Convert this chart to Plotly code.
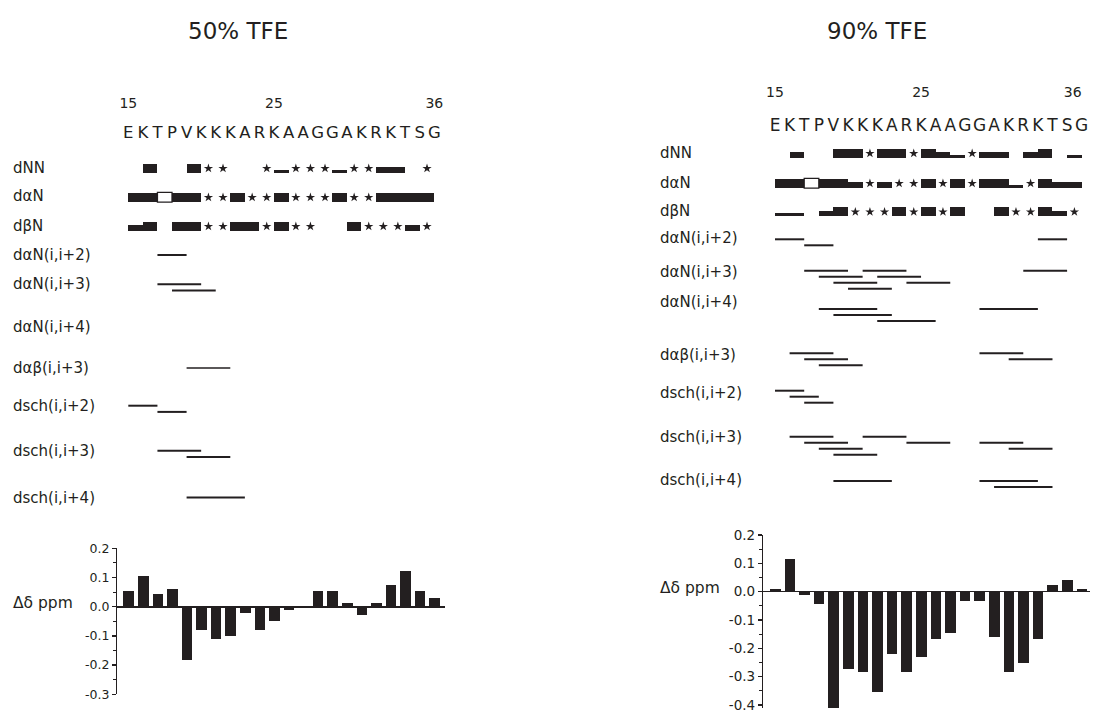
import plotly.graph_objects as go

W, H = 1093, 717

# ====================== DATA ======================
residues = list(range(15, 37))
sequence = list("EKTPVKKKARKAAGGAKRKTSG")
seq_numbers = [15, 25, 36]

panel_titles = ["50% TFE", "90% TFE"]
seq_row_names = ["dNN", "dαN", "dβN"]
mr_row_names = ["dαN(i,i+2)", "dαN(i,i+3)", "dαN(i,i+4)", "dαβ(i,i+3)",
                "dsch(i,i+2)", "dsch(i,i+3)", "dsch(i,i+4)"]
shift_label = "Δδ ppm"

# ---- 50% TFE: sequential NOEs (from residue, to residue, intensity s/m/w)
tfe50_dNN = [(16, 17, "s"), (19, 20, "s"), (25, 26, "w"), (29, 30, "w"), (32, 34, "m")]
tfe50_daN = [(15, 17, "s"), (18, 20, "s"), (22, 23, "s"), (25, 26, "s"), (29, 30, "s"), (32, 36, "s")]
tfe50_dbN = [(15, 16, "m"), (16, 17, "s"), (18, 20, "s"), (22, 24, "s"), (25, 26, "s"), (30, 31, "s"), (34, 35, "m")]
# ambiguous connectivities (star), given by residue i of the (i, i+1) pair
tfe50_dNN_amb = [20, 21, 24, 26, 27, 28, 30, 31, 35]
tfe50_daN_amb = [20, 21, 23, 24, 26, 27, 28, 30, 31]
tfe50_dbN_amb = [20, 21, 24, 26, 27, 31, 32, 33, 35]
tfe50_open = [(17, 18)]
# ---- 50% TFE: medium range NOEs (i, j, stacking level)
tfe50_daN2 = [(17, 19, 0)]
tfe50_daN3 = [(17, 20, 0), (18, 21, 1)]
tfe50_daN4 = []
tfe50_dab3 = [(19, 22, 0)]
tfe50_dsc2 = [(15, 17, 0), (17, 19, 1)]
tfe50_dsc3 = [(17, 20, 0), (19, 22, 1)]
tfe50_dsc4 = [(19, 23, 0)]
# ---- 50% TFE: chemical shift deviation (ppm), residues 15..36
tfe50_shift = [0.055, 0.105, 0.043, 0.061, -0.183, -0.080, -0.111, -0.100, -0.023, -0.080, -0.048,
               -0.011, 0.0, 0.055, 0.055, 0.014, -0.029, 0.014, 0.074, 0.123, 0.055, 0.031]

# ---- 90% TFE: sequential NOEs
tfe90_dNN = [(16, 17, "m"), (19, 21, "s"), (22, 24, "s"), (25, 26, "s"), (26, 27, "m"), (27, 28, "w"),
             (29, 31, "m"), (32, 33, "m"), (33, 34, "s"), (35, 36, "w")]
tfe90_daN = [(15, 17, "s"), (18, 20, "s"), (20, 21, "m"), (22, 23, "m"), (25, 26, "s"), (27, 28, "s"),
             (29, 31, "s"), (31, 32, "w"), (33, 34, "s"), (34, 36, "m")]
tfe90_dbN = [(15, 17, "w"), (18, 19, "m"), (19, 20, "s"), (23, 24, "s"), (25, 26, "s"), (27, 28, "s"),
             (30, 31, "s"), (33, 34, "s"), (34, 35, "m")]
tfe90_dNN_amb = [21, 24, 28]
tfe90_daN_amb = [21, 23, 24, 26, 28, 32]
tfe90_dbN_amb = [20, 21, 22, 24, 26, 31, 32, 35]
tfe90_open = [(17, 18)]
# ---- 90% TFE: medium range NOEs
tfe90_daN2 = [(15, 17, 0), (17, 19, 1), (33, 35, 0)]
tfe90_daN3 = [(17, 20, 0), (21, 24, 0), (32, 35, 0), (18, 21, 1), (22, 25, 1), (19, 22, 2), (24, 27, 2), (20, 23, 3)]
tfe90_daN4 = [(18, 22, 0), (29, 33, 0), (19, 23, 1), (22, 26, 2)]
tfe90_dab3 = [(16, 19, 0), (29, 32, 0), (17, 20, 1), (31, 34, 1), (18, 21, 2)]
tfe90_dsc2 = [(15, 17, 0), (16, 18, 1), (17, 19, 2)]
tfe90_dsc3 = [(16, 19, 0), (21, 24, 0), (17, 20, 1), (24, 27, 1), (29, 32, 1), (18, 21, 2), (31, 34, 2), (19, 22, 3)]
tfe90_dsc4 = [(19, 23, 0), (29, 33, 0), (30, 34, 1)]
# ---- 90% TFE: chemical shift deviation (ppm)
tfe90_shift = [0.009, 0.115, -0.011, -0.044, -0.410, -0.273, -0.282, -0.353, -0.220, -0.282, -0.229,
               -0.166, -0.145, -0.032, -0.032, -0.159, -0.282, -0.250, -0.166, 0.024, 0.041, 0.009]

shift_ticks = [-0.4, -0.3, -0.2, -0.1, 0.0, 0.1, 0.2]
shift_ticktext = ["-0.4", "-0.3", "-0.2", "-0.1", "0.0", "0.1", "0.2"]

# ====================== STYLE / LAYOUT ======================
INK = "#231f20"
FONT = "DejaVu Sans, Liberation Sans, Arial, sans-serif"
THICK = {"s": 8.8, "m": 5.4, "w": 3.0}

panels = [
    dict(xa="x", xb="x3", yb="y3",
         res_px=(128.3, 434.3), dom_px=(0, W / 2),
         seq_base=[172.7, 201.7, 230.7], seq_label_y=[167.5, 196.5, 225.5],
         mr_y=[255, 284.3, 326.5, 368, 405.7, 450.7, 497.5],
         mr_label_y=[255, 284.3, 326.5, 368, 405.7, 450.7, 497.5],
         label_x=11, label_size=15, letters_y=134, letter_size=16.5, numbers_y=104.3,
         last_num_pos="middle center",
         title_xy=(238, 31),
         bar_dom_px=(117.3, 445), bar_res15_px=128.7, bar_step=14.57,
         bar_y_px=(548.3, 694.3), bar_range=(-0.3, 0.2),
         shift_label_xy=(11, 603), tick_size=12.5,
         lw=[2, 2, 2, 1.3, 2, 2, 2], level_dy=6.2,
         noe=[tfe50_dNN, tfe50_daN, tfe50_dbN],
         amb=[tfe50_dNN_amb, tfe50_daN_amb, tfe50_dbN_amb],
         open=tfe50_open,
         mr=[tfe50_daN2, tfe50_daN3, tfe50_daN4, tfe50_dab3, tfe50_dsc2, tfe50_dsc3, tfe50_dsc4],
         shift=tfe50_shift),
    dict(xa="x2", xb="x4", yb="y4",
         res_px=(775, 1081.7), dom_px=(W / 2, W),
         seq_base=[157.7, 187.7, 216.2], seq_label_y=[152.7, 182.5, 211.5],
         mr_y=[239.3, 270.7, 309, 353.3, 390.7, 436.7, 481],
         mr_label_y=[238.3, 271.7, 301.7, 355, 393.3, 436.7, 480],
         label_x=658, label_size=15, letters_y=126.7, letter_size=17, numbers_y=93.3,
         last_num_pos="middle left",
         title_xy=(877, 31),
         bar_dom_px=(763.3, 1090), bar_res15_px=775.3, bar_step=14.6,
         bar_y_px=(535, 708.4), bar_range=(-0.412, 0.2),
         shift_label_xy=(658, 588), tick_size=13.5,
         lw=[2] * 7, level_dy=6.0,
         noe=[tfe90_dNN, tfe90_daN, tfe90_dbN],
         amb=[tfe90_dNN_amb, tfe90_daN_amb, tfe90_dbN_amb],
         open=tfe90_open,
         mr=[tfe90_daN2, tfe90_daN3, tfe90_daN4, tfe90_dab3, tfe90_dsc2, tfe90_dsc3, tfe90_dsc4],
         shift=tfe90_shift),
]


def lin_range(lo_px, hi_px, px_a, v_a, px_b, v_b):
    k = (v_b - v_a) / (px_b - px_a)
    return [v_a + (lo_px - px_a) * k, v_a + (hi_px - px_a) * k]


fig = go.Figure()
annotations = []
layout_axes = {}

# shared pixel-like vertical axis for the NOE diagrams (top = 0)
layout_axes["yaxis"] = dict(domain=[0, 1], range=[H, 0], visible=False, anchor="x",
                            fixedrange=True, automargin=False)

for pi, p in enumerate(panels):
    xa = p["xa"]
    xa_key = "xaxis" if xa == "x" else "xaxis" + xa[1:]
    layout_axes[xa_key] = dict(
        domain=[p["dom_px"][0] / W, p["dom_px"][1] / W],
        range=lin_range(p["dom_px"][0], p["dom_px"][1], p["res_px"][0], 15, p["res_px"][1], 36),
        visible=False, anchor="y", fixedrange=True, automargin=False)

    # sequence letters and residue numbers
    fig.add_trace(go.Scatter(x=residues, y=[p["letters_y"]] * len(residues), mode="text",
                             text=sequence, textposition="middle center",
                             textfont=dict(family=FONT, size=p["letter_size"], color=INK),
                             xaxis=xa, yaxis="y", hoverinfo="skip", cliponaxis=False))
    num_pos = ["middle center"] * (len(seq_numbers) - 1) + [p["last_num_pos"]]
    fig.add_trace(go.Scatter(x=seq_numbers, y=[p["numbers_y"]] * len(seq_numbers), mode="text",
                             text=[str(n) for n in seq_numbers], textposition=num_pos,
                             textfont=dict(family=FONT, size=14, color=INK),
                             xaxis=xa, yaxis="y", hoverinfo="skip", cliponaxis=False))

    # sequential NOE bars
    for ri, (bars, amb) in enumerate(zip(p["noe"], p["amb"])):
        base_y = p["seq_base"][ri]
        th = [THICK[s] for (_, _, s) in bars]
        fig.add_trace(go.Bar(orientation="h",
                             base=[a for (a, _, _) in bars],
                             x=[b - a for (a, b, _) in bars],
                             y=[base_y - t / 2 for t in th],
                             width=th, marker=dict(color=INK, line=dict(width=0)),
                             xaxis=xa, yaxis="y", hoverinfo="skip"))
        if amb:
            fig.add_trace(go.Scatter(x=[i + 0.5 for i in amb], y=[base_y - 4.3] * len(amb),
                                     mode="markers",
                                     marker=dict(symbol="star", size=7, color=INK, line=dict(width=0)),
                                     xaxis=xa, yaxis="y", hoverinfo="skip"))
        annotations.append(dict(text=seq_row_names[ri], xref="paper", yref="paper",
                                x=p["label_x"] / W, y=1 - p["seq_label_y"][ri] / H,
                                xanchor="left", yanchor="middle", showarrow=False,
                                font=dict(family=FONT, size=p["label_size"], color=INK)))
    # open box on the dalphaN row (Pro18)
    ob_th = THICK["s"] + 1
    fig.add_trace(go.Bar(orientation="h",
                         base=[a for (a, _) in p["open"]],
                         x=[b - a for (a, b) in p["open"]],
                         y=[p["seq_base"][1] - ob_th / 2 + 0.5] * len(p["open"]),
                         width=[ob_th] * len(p["open"]),
                         marker=dict(color="white", line=dict(color=INK, width=1.3)),
                         xaxis=xa, yaxis="y", hoverinfo="skip"))

    # medium range NOE lines
    for ri, lines in enumerate(p["mr"]):
        xs, ys = [], []
        for (i, j, lev) in lines:
            yy = p["mr_y"][ri] + lev * p["level_dy"]
            xs += [i, j, None]
            ys += [yy, yy, None]
        if xs:
            fig.add_trace(go.Scatter(x=xs, y=ys, mode="lines",
                                     line=dict(color=INK, width=p["lw"][ri]),
                                     xaxis=xa, yaxis="y", hoverinfo="skip"))
        annotations.append(dict(text=mr_row_names[ri], xref="paper", yref="paper",
                                x=p["label_x"] / W, y=1 - p["mr_label_y"][ri] / H,
                                xanchor="left", yanchor="middle", showarrow=False,
                                font=dict(family=FONT, size=p["label_size"], color=INK)))

    # panel title
    annotations.append(dict(text=panel_titles[pi], xref="paper", yref="paper",
                            x=p["title_xy"][0] / W, y=1 - p["title_xy"][1] / H,
                            xanchor="center", yanchor="middle", showarrow=False,
                            font=dict(family=FONT, size=23, color=INK)))

    # chemical shift bar chart
    xb, yb = p["xb"], p["yb"]
    xb_key = "xaxis" + xb[1:]
    yb_key = "yaxis" + yb[1:]
    bx0, bx1 = p["bar_dom_px"]
    layout_axes[xb_key] = dict(
        domain=[bx0 / W, bx1 / W],
        range=lin_range(bx0, bx1, p["bar_res15_px"], 15, p["bar_res15_px"] + p["bar_step"], 16),
        visible=False, anchor=yb, fixedrange=True, automargin=False)
    by_top, by_bot = p["bar_y_px"]
    lo, hi = p["bar_range"]
    tv = [t for t in shift_ticks if lo - 1e-9 <= t <= hi + 1e-9]
    tt = [shift_ticktext[shift_ticks.index(t)] for t in tv]
    layout_axes[yb_key] = dict(
        domain=[1 - by_bot / H, 1 - by_top / H], range=[lo, hi], anchor=xb,
        showline=True, linecolor=INK, linewidth=1.4,
        ticks="outside", ticklen=4, tickwidth=1.2, tickcolor=INK,
        tickvals=tv, ticktext=tt,
        tickfont=dict(family=FONT, size=p["tick_size"], color=INK),
        minor=dict(ticks="outside", ticklen=3, tickwidth=1, tickcolor=INK, dtick=0.05, tick0=0,
                   showgrid=False),
        showgrid=False, zeroline=True, zerolinecolor=INK, zerolinewidth=1.6,
        fixedrange=True, automargin=False)
    fig.add_trace(go.Bar(x=residues, y=p["shift"], width=0.73,
                         marker=dict(color=INK, line=dict(width=0)),
                         xaxis=xb, yaxis=yb, hoverinfo="skip"))
    annotations.append(dict(text=shift_label, xref="paper", yref="paper",
                            x=p["shift_label_xy"][0] / W, y=1 - p["shift_label_xy"][1] / H,
                            xanchor="left", yanchor="middle", showarrow=False,
                            font=dict(family=FONT, size=15.5, color=INK)))

fig.update_layout(
    template="none",
    width=W, height=H, margin=dict(l=0, r=0, t=0, b=0, pad=0, autoexpand=False),
    paper_bgcolor="white", plot_bgcolor="rgba(0,0,0,0)",
    showlegend=False, barmode="overlay", bargap=0,
    annotations=annotations, **layout_axes)

fig.write_html("out.html",
               config={"displayModeBar": False, "staticPlot": True},
               post_script="document.body.style.margin='0px';document.body.style.overflow='hidden';")
